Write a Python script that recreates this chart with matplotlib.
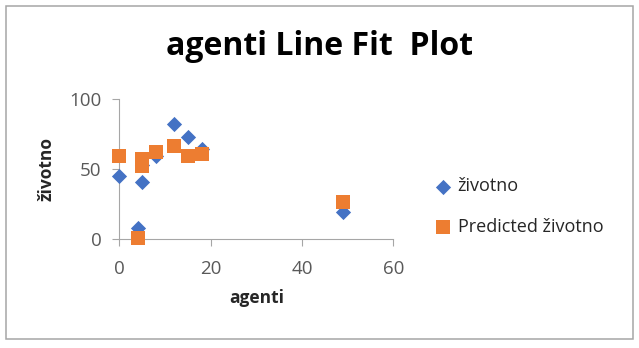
import matplotlib.pyplot as plt
from matplotlib.patches import Rectangle

agenti = [0, 4, 5, 5, 8, 12, 15, 18, 49]
zivotno = [45, 8, 41, 53, 59, 82, 73, 64, 19]
predicted = [59.5, 1, 57, 52, 62, 66.5, 59, 60.5, 26.5]

blue = '#4472C4'
orange = '#ED7D31'
grey = '#595959'

plt.rcParams['font.family'] = ['Open Sans', 'DejaVu Sans']

fig = plt.figure(figsize=(6.39, 3.48), dpi=100)
# chart area frame
fig.patches.append(Rectangle((0.0094, 0.0259), 0.981, 0.957, transform=fig.transFigure,
                             fill=False, edgecolor='#A6A6A6', linewidth=1.1))

ax = fig.add_axes([0.187, 0.3132, 0.4285, 0.4023])
ax.scatter(agenti, zivotno, marker='D', s=60, color=blue, label='životno',
           zorder=3, linewidths=0, clip_on=False)
ax.scatter(agenti, predicted, marker='s', s=115, color=orange, label='Predicted životno',
           zorder=4, linewidths=0, clip_on=False)

ax.set_xlim(0, 60)
ax.set_ylim(0, 100)
ax.set_xticks([0, 20, 40, 60])
ax.set_yticks([0, 50, 100])
for side in ['top', 'right']:
    ax.spines[side].set_visible(False)
for side in ['left', 'bottom']:
    ax.spines[side].set_color('#A6A6A6')
ax.tick_params(colors='#A6A6A6', labelcolor=grey, labelsize=13.5, length=5, width=0.8)
ax.tick_params(axis='x', pad=10)
ax.tick_params(axis='y', pad=8)

ax.set_xlabel('agenti', fontsize=12.5, fontweight='bold', color='#262626', labelpad=8)
ax.set_ylabel('životno', fontsize=12.5, fontweight='bold', color='#262626', labelpad=10)
fig.text(0.5, 0.865, 'agenti Line Fit  Plot', ha='center', va='center',
         fontsize=23, fontweight='bold')

ax.legend(loc='center left', bbox_to_anchor=(1.09, 0.232), frameon=False, fontsize=13,
          labelcolor='#262626', handlelength=1.0, handletextpad=0.3, labelspacing=1.25,
          scatterpoints=1)

fig.savefig('out.png', dpi=100)
